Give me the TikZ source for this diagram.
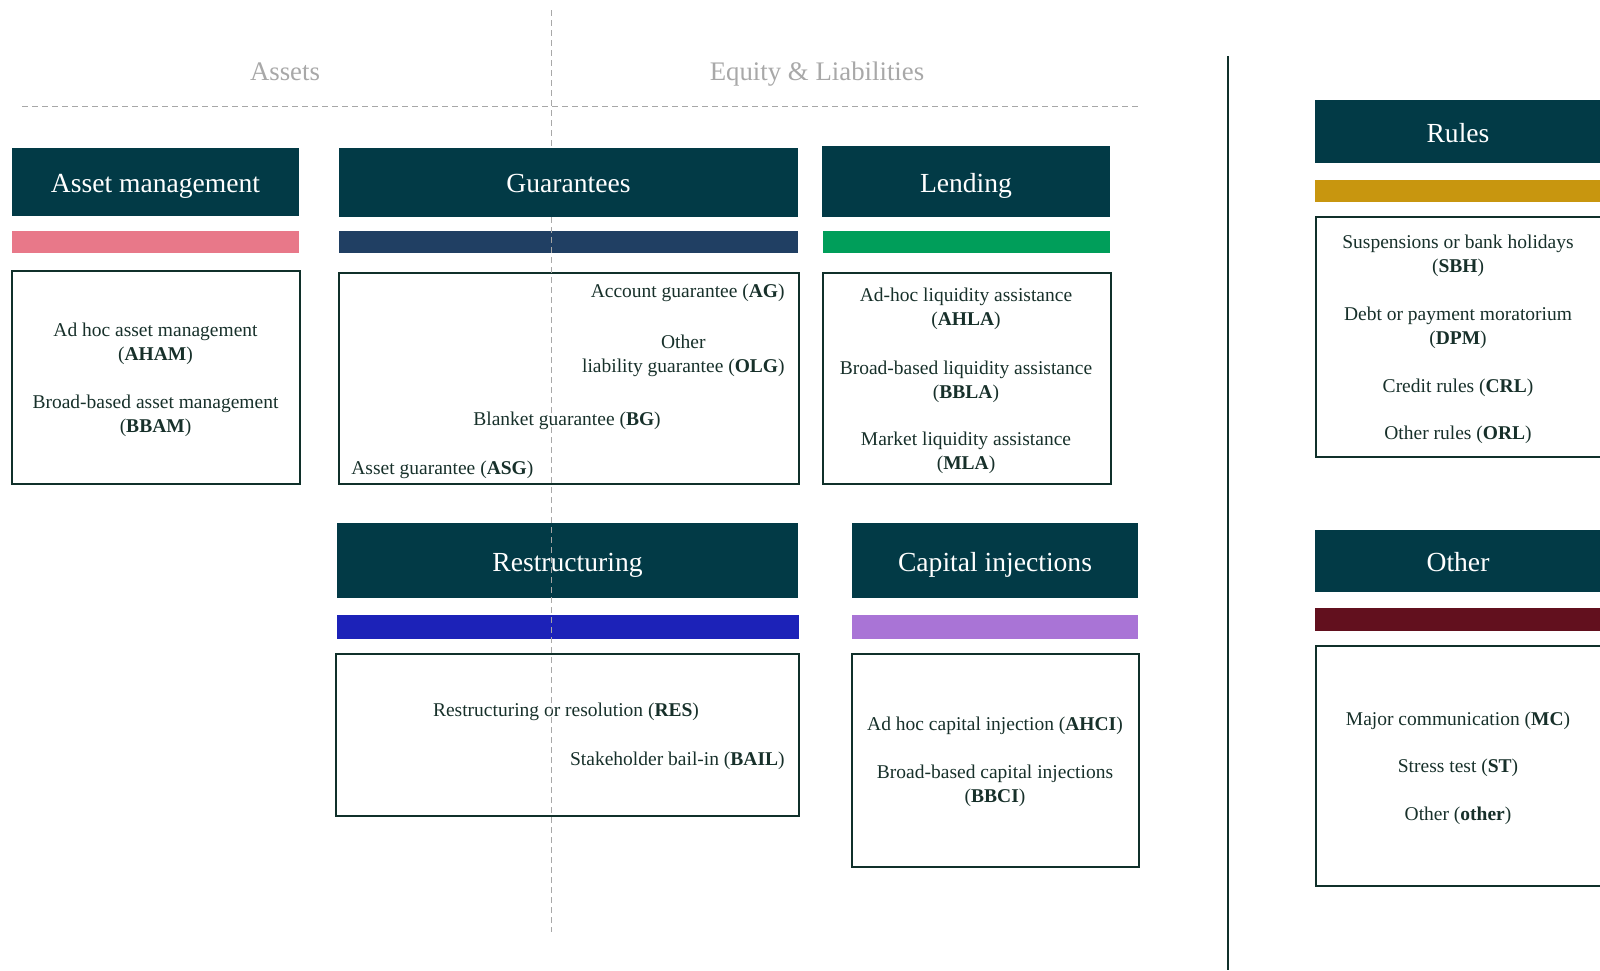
\documentclass[tikz,border=0pt]{standalone}
\usepackage{fontspec}
\setmainfont{Liberation Serif}
\usepackage{xcolor}
\definecolor{headc}{HTML}{023A46}
\definecolor{boxc}{HTML}{10302A}
\definecolor{txtc}{HTML}{17302A}
\definecolor{dashc}{HTML}{A8A8A8}
\definecolor{amc}{HTML}{E87889}
\definecolor{guc}{HTML}{203F63}
\definecolor{lec}{HTML}{009E5A}
\definecolor{ruc}{HTML}{C8960F}
\definecolor{rec}{HTML}{1C22B8}
\definecolor{cic}{HTML}{A974D6}
\definecolor{otc}{HTML}{62101E}

\begin{document}
\begin{tikzpicture}[x=0.5pt,y=-0.5pt,
    side/.style={text=dashc,yshift=-2.5pt,text height=0.68em,text depth=0.22em,font=\fontsize{13.4}{16}\selectfont},
    head/.style={fill=headc},
    headtxt/.style={text=white,yshift=-3pt,text height=0.68em,text depth=0.22em,font=\fontsize{13.8}{16}\selectfont},
    frame/.style={draw=boxc,line width=1.3pt},
    item/.style={text=txtc,align=center,inner sep=0pt,yshift=-1pt,font=\fontsize{9.75}{12}\selectfont},
    split/.style={dashc,line width=0.5pt,dash pattern=on 3pt off 2pt}]
    \useasboundingbox (0,0) rectangle (1600,970);
    \clip (0,0) rectangle (1600,970);
    % balance sheet sides
    \node[side] (assets) at (285,71) {Assets};
    \node[side] (eqli) at (817,71) {Equity \& Liabilities};
    \draw[split] (22,106) -- (1141,106);
    % separator of the right column
    \draw[boxc,line width=0.75pt] (1228,56) -- (1228,970);
    % asset management
    \path[head] (12,148) rectangle (299,216);
    \node[headtxt] (amhead) at (155.5,182) {Asset management};
    \fill[amc] (12,231) rectangle (299,253);
    \draw[frame] (12,271) rectangle (300,484);
    \node[item] (aham) at (155.5,342) {Ad hoc asset management\\(\textbf{AHAM})};
    \node[item] (bbam) at (155.5,413.5) {Broad-based asset management\\(\textbf{BBAM})};
    % guarantees
    \path[head] (339,148) rectangle (798,217);
    \node[headtxt] (guhead) at (568.5,182) {Guarantees};
    \fill[guc] (339,231) rectangle (798,253);
    \draw[frame] (339,273) rectangle (799,484);
    \node[item,anchor=east] (ag) at (785,291) {Account guarantee (\textbf{AG})};
    \node[item,anchor=east] (olg) at (785,354) {Other\\liability guarantee (\textbf{OLG})};
    \node[item] (bg) at (567,419) {Blanket guarantee (\textbf{BG})};
    \node[item,anchor=west] (asg) at (351,468) {Asset guarantee (\textbf{ASG})};
    % lending
    \path[head] (822,146) rectangle (1110,217);
    \node[headtxt] (lehead) at (966,181.5) {Lending};
    \fill[lec] (823,231) rectangle (1110,253);
    \draw[frame] (823,273) rectangle (1111,484);
    \node[item] (ahla) at (966,307) {Ad-hoc liquidity assistance\\(\textbf{AHLA})};
    \node[item] (bbla) at (966,379.5) {Broad-based liquidity assistance\\(\textbf{BBLA})};
    \node[item] (mla) at (966,451) {Market liquidity assistance\\(\textbf{MLA})};
    % restructuring
    \path[head] (337,523) rectangle (798,598);
    \node[headtxt] (rehead) at (567.5,560.5) {Restructuring};
    \fill[rec] (337,615) rectangle (799,639);
    \draw[frame] (336,654) rectangle (799,816);
    \node[item] (res) at (566,710) {Restructuring or resolution (\textbf{RES})};
    \node[item,anchor=east] (bail) at (785,759) {Stakeholder bail-in (\textbf{BAIL})};
    % capital injections
    \path[head] (852,523) rectangle (1138,598);
    \node[headtxt] (cihead) at (995,560.5) {Capital injections};
    \fill[cic] (852,615) rectangle (1138,639);
    \draw[frame] (852,654) rectangle (1139,867);
    \node[item] (ahci) at (995,724) {Ad hoc capital injection (\textbf{AHCI})};
    \node[item] (bbci) at (995,783.5) {Broad-based capital injections\\(\textbf{BBCI})};
    % vertical split, over the panels
    \draw[split] (551,10) -- (551,148);
    \draw[split] (551,217) -- (551,932);
    % rules
    \path[head] (1315,100) rectangle (1610,163);
    \node[headtxt] (ruhead) at (1458,131.5) {Rules};
    \fill[ruc] (1315,180) rectangle (1610,202);
    \draw[frame] (1316,217) rectangle (1620,457);
    \node[item] (sbh) at (1458,253.5) {Suspensions or bank holidays\\(\textbf{SBH})};
    \node[item] (dpm) at (1458,325.5) {Debt or payment moratorium\\(\textbf{DPM})};
    \node[item] (crl) at (1458,386) {Credit rules (\textbf{CRL})};
    \node[item] (orl) at (1458,433) {Other rules (\textbf{ORL})};
    % other
    \path[head] (1315,530) rectangle (1610,592);
    \node[headtxt] (othead) at (1458,561) {Other};
    \fill[otc] (1315,608) rectangle (1610,631);
    \draw[frame] (1316,646) rectangle (1620,886);
    \node[item] (mc) at (1458,719) {Major communication (\textbf{MC})};
    \node[item] (st) at (1458,766) {Stress test (\textbf{ST})};
    \node[item] (oth) at (1458,814) {Other (\textbf{other})};
\end{tikzpicture}
\end{document}
